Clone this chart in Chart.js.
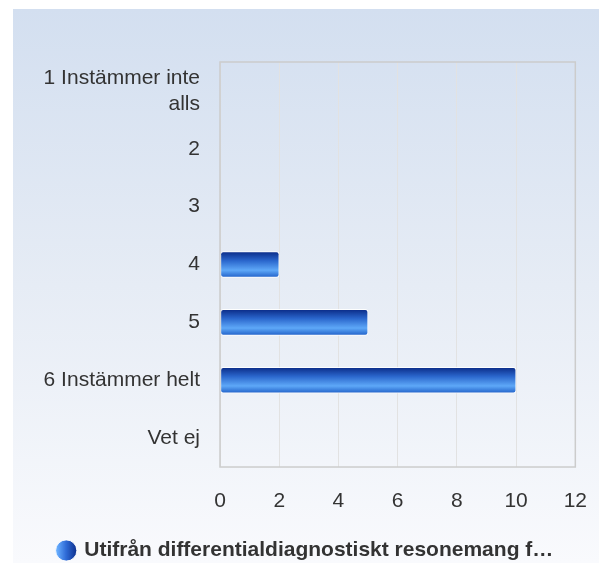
<!DOCTYPE html>
<html lang="sv">
  <head>
    <meta charset="UTF-8" />
    <title>Utifrån differentialdiagnostiskt resonemang</title>
    <script src="https://cdn.jsdelivr.net/npm/chart.js"></script>
    <style>
      html, body { margin: 0; padding: 0; background: #fff; }
      #panel {
        position: absolute; left: 13px; top: 9px; width: 586px; height: 554px;
        background: linear-gradient(to bottom, #d3dff0 0%, #e6ecf5 50%, #f9fafd 100%);
      }
    </style>
  </head>
  <body>
    <div id="panel"><canvas id="barChart" width="586" height="554"></canvas></div>

    <script>
      const categories = [
        ["1 Instämmer inte", "alls"],
        "2",
        "3",
        "4",
        "5",
        "6 Instämmer helt",
        "Vet ej",
      ];
      const answers = [0, 0, 0, 2, 5, 10, 0];
      const xTicks = [0, 2, 4, 6, 8, 10, 12];
      const seriesName = "Utifrån differentialdiagnostiskt resonemang f…";

      const FONT = "'Liberation Sans', Arial, sans-serif";

      function barGradient(context) {
        const chart = context.chart;
        const yScale = chart.scales.y;
        if (!yScale || context.dataIndex === undefined) return "#2a6ad0";
        const c = yScale.getPixelForValue(context.dataIndex);
        if (!Number.isFinite(c)) return "#2a6ad0";
        const g = chart.ctx.createLinearGradient(0, c - 13, 0, c + 13);
        g.addColorStop(0, "#0a2a86");
        g.addColorStop(0.35, "#2a66cc");
        g.addColorStop(0.72, "#5ea8f8");
        g.addColorStop(1, "#2060c8");
        return g;
      }

      // grey frame round the plot area + gradient for the legend dot
      const extras = {
        id: "extras",
        beforeDraw(chart) {
          const lg = chart.legend;
          if (!lg || !lg.legendItems || !lg.legendItems.length) return;
          const hb = lg.legendHitBoxes && lg.legendHitBoxes[0];
          let x0 = hb ? hb.left : NaN;
          if (!Number.isFinite(x0)) {
            x0 = hb && Number.isFinite(hb.width) ? (chart.width - hb.width) / 2 : 42;
          }
          const g = chart.ctx.createLinearGradient(x0 - 2, 0, x0 + 19, 0);
          g.addColorStop(0, "#6ab0ff");
          g.addColorStop(0.45, "#2e6ad6");
          g.addColorStop(1, "#0a2a86");
          lg.legendItems[0].fillStyle = g;
        },
        afterDraw(chart) {
          const a = chart.chartArea;
          const ctx = chart.ctx;
          ctx.save();
          ctx.strokeStyle = "#cccccc";
          ctx.lineWidth = 1.5;
          ctx.strokeRect(a.left, a.top, a.right - a.left, a.bottom - a.top);
          ctx.restore();
        },
      };

      const ctx = document.getElementById("barChart").getContext("2d");
      new Chart(ctx, {
        type: "bar",
        data: {
          labels: categories,
          datasets: [
            {
              label: seriesName,
              data: answers,
              backgroundColor: barGradient,
              borderColor: "rgba(255,255,255,0.9)",
              borderWidth: 1,
              borderRadius: 3,
              borderSkipped: false,
              barThickness: 26,
            },
          ],
        },
        options: {
          indexAxis: "y",
          responsive: false,
          animation: false,
          layout: { padding: { top: 53, right: 0, left: 0, bottom: -8 } },
          scales: {
            x: {
              min: 0,
              max: 12,
              afterBuildTicks(scale) {
                scale.ticks = xTicks.map((v) => ({ value: v }));
              },
              afterFit(scale) { scale.height = 71; },
              grid: {
                color: "#e2e2e2",
                lineWidth: 1,
                drawTicks: true,
                tickLength: 10,
                tickColor: "transparent",
              },
              border: { display: false },
              ticks: {
                padding: 12,
                color: "#333",
                font: { family: FONT, size: 21 },
              },
            },
            y: {
              afterFit(scale) { scale.width = 207; },
              grid: { display: false, drawTicks: false },
              border: { display: false },
              ticks: {
                padding: 20,
                color: "#333",
                font: { family: FONT, size: 21, lineHeight: 1.25 },
              },
            },
          },
          plugins: {
            tooltip: { enabled: false },
            legend: {
              position: "bottom",
              labels: {
                usePointStyle: true,
                pointStyle: "circle",
                boxWidth: 15,
                boxHeight: 15,
                padding: 2,
                color: "#333",
                font: { family: FONT, size: 21, weight: "bold" },
              },
            },
          },
        },
        plugins: [extras],
      });
    </script>
  </body>
</html>
